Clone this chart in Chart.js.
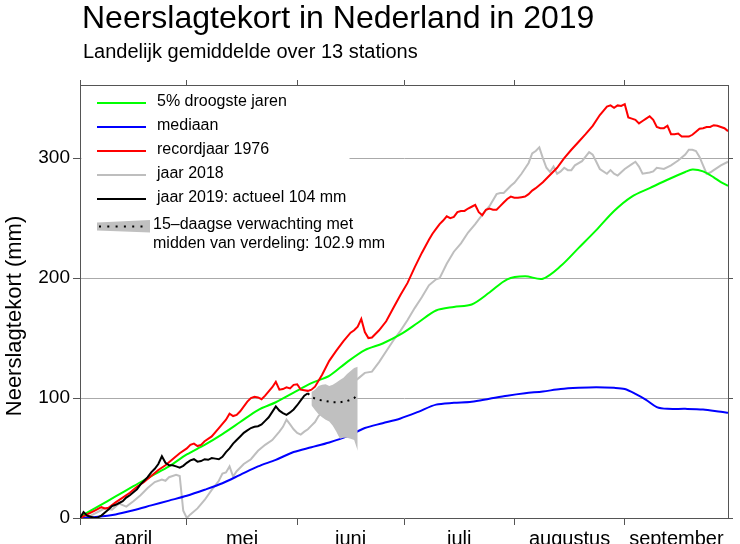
<!DOCTYPE html>
<html><head><meta charset="utf-8">
<script src="https://cdn.jsdelivr.net/npm/chart.js@4/dist/chart.umd.min.js"></script>
<style>html,body{margin:0;padding:0;background:#fff}#wrap{width:740px;height:544px;position:relative}canvas{display:block}</style>
</head><body><div id="wrap"><canvas id="c" width="740" height="544"></canvas></div>
<script>
// ---- texts ----
const TITLE = 'Neerslagtekort in Nederland in 2019';
const SUBTITLE = 'Landelijk gemiddelde over 13 stations';
const YTITLE = 'Neerslagtekort (mm)';
const legendLabels = ['5% droogste jaren', 'mediaan', 'recordjaar 1976', 'jaar 2018', 'jaar 2019: actueel 104 mm'];
const legendBandLabels = ['15\u2013daagse verwachting met', 'midden van verdeling: 102.9 mm'];

// ---- axes (x = days since 1 April) ----
const months = ['april', 'mei', 'juni', 'juli', 'augustus', 'september'];
const monthStartDays = [0, 30, 61, 91, 122, 153];
const monthMidDays = [15, 45.5, 76, 106.5, 137.5, 167.5];
const yTickValues = [0, 100, 200, 300];

// ---- 5% droogste jaren ----
const greenDays = [0,5,10,15,20,25,30,35,40,45,50,55,60,65,70,75,80,85,90,95,100,105,110,115,120,125,130,135,140,145,150,155,160,165,170,172,175,178,180,182];
const greenVals = [1,9.5,18,26.5,35,43,53,61,70,80,90,96.5,104.5,112.5,118.5,130,140,145.5,153,163,173,176,178,188,199,201.5,199.5,210,225,240,256,268,275,282,288.5,290.5,289,284,280,277];

// ---- mediaan ----
const blueDays = [0,5,10,15,20,25,30,35,40,45,50,55,60,65,70,75,80,85,90,95,100,105,110,115,120,125,130,135,140,145,150,153,156,159,162,165,170,175,180,182];
const blueVals = [0,1,3,6.5,10.5,14.5,18.5,23.5,29,36,43,48.5,55,59,63,68,75,79,83,88.5,94.5,96,97,99.5,102,104,105.5,107.5,108.5,109,108.5,107.5,103.5,98.5,92.5,91,91,90.5,88.5,87.8];

// ---- recordjaar 1976 ----
const redDays = [0,2,4,6,7,8,10,12,14,16,18,20,22,24,26,28,30,31,32,33,34,35,37,39,41,42,43,44,45,47,48,49,50,51,52,54,55,56,57,58,59,60,61,62,64,65,66,68,70,72,74,76,77,78,79,80,81,82,84,86,88,90,92,94,96,98,99,100,101,102,103,104,105,106,107,108,109,110,111,112,113,114,115,116,117,118,119,120,121,122,123,124,125,126,127,128,129,130,132,134,136,138,140,142,144,146,147,148,149,150,151,152,153,154,155,156,157,158,159,160,161,162,163,164,165,166,167,168,169,170,171,172,173,174,175,176,177,178,179,180,181,182];
const redVals = [0,3,6,9,8,8.5,13,17,21,26,30,35,40,44,49,54,58,61,62,60,61,64,68,75,82,87,85,86,89,97,100,101,100.5,99,102,109,113.5,107,107.5,109,108,111,111.5,107,106,107,109.5,119.5,131,139.5,147.5,154.5,156.5,159.5,166,155,150,150.5,156.5,164,175,186,196,209,221,232,237,241,245,248,251.5,250,251,255,256,256,258,259.5,261,255,252.5,257,258,257,257,260,263,266,268,267,267,267.5,268,270,273,275,277.5,280,286,292,300,307,313.5,320,327,336,339.5,343,344,342,344,343.5,345,334,333,332,329,331,333,335,332,326,325,325,327,320,320,320.5,318,318,318,319.5,322,324.5,325,326,326,327.5,327,326,325,322.5];

// ---- jaar 2018 ----
const grayDays = [0,3,5,7,9,11,13,15,17,19,21,23,24,25,27,28,29,30,31,33,35,37,39,40,41,42,43,44,46,48,50,52,54,56,57,58,59,60,61,62,63,64,65,66,67,78,80,82,84,86,88,90,92,94,96,98,100,101,103,105,107,109,111,113,115,117,118,119,121,122,124,126,127,128,129,130,131,132,133,134,135,136,137,138,139,141,143,144,145,146,148,149,150,151,153,155,156,157,158,160,161,162,164,166,168,170,171,172,173,174,175,176,177,178,180,182];
const grayVals = [0,2,5,8,7,12,9.5,14,19,25,30,32,31,34,36,35,6,0,3,8,15,23.5,31,37,38,43,34.5,39,45,49,56,61,65,72,76,82,78,74,71,69.5,72,74,77,80,85,116,121,122,130,139,148,156,165,175,184,194,199,200,212,222,229,238,245,253,260,270,271,271,277,279.5,287,296,304,306,309,300,292,288.5,293,287,289,292,290,290,294,297.5,305,303,297,291,287,290,287,285.5,291,295,297,293,287,288,289,292,291,294,298,303,307,307,306,301,294,287,288,290,294,297];

// ---- jaar 2019 ----
const blackDays = [0,1,2,3,4,5,6,7,8,9,10,11,12,13,14,15,16,17,18,19,20,21,22,23,24,25,26,27,28,29,30,31,32,33,34,35,36,37,38,39,40,41,42,43,44,45,46,47,48,49,50,51,52,53,54,55,56,57,58,59,60,61,62,63,64];
const blackVals = [0,5,2,1,0,0.5,2,4.5,7,10,11,12.5,14,17,19,21.5,24,28,31,34,38,41,45,51.5,46,44,44,43,42,43.5,46,48,49,47,47.5,49,48.5,50,49.5,49,51,55,58,62,65,68,71,73,75,76,76.5,78,81,84,88.5,93,89.5,87.5,86,88,90.5,94,98,102,104];

// ---- 15-daagse verwachting ----
const fcDays = [64,65,66,67,68,69,70,71,72,73,74,75,76,77,78];
const fcMid = [104,101,99.5,98.5,98,97.5,97,96.5,96.5,96.5,97,97.5,98.5,100,102.9];
const bandDays = [65,66,67,68,69,70,71,72,73,74,75,76,77,78];
const bandLow = [94,90,86.5,84,82,80.5,77,72,66,67,67,66,65,56];
const bandHigh = [105,107,110,111,111.5,110,111,113,115,117,120,122.5,125,126];

const pts = (d, v) => d.map((x, i) => ({x: x, y: v[i]}));
const FONT = '"Liberation Sans", Arial, Helvetica, sans-serif';
const AXIS = '#555555';
const GRID = '#aaaaaa';
const clear = 'rgba(0,0,0,0)';
const boundaryTicks = () => monthStartDays.map(v => ({value: v}));

const textPlugin = {
  id: 'texts',
  afterDraw(chart) {
    const ctx = chart.ctx;
    ctx.save();
    ctx.fillStyle = '#000';
    ctx.textAlign = 'left';
    ctx.textBaseline = 'alphabetic';
    ctx.font = '32px ' + FONT;
    ctx.fillText(TITLE, 82, 28);
    ctx.font = '20px ' + FONT;
    ctx.fillText(SUBTITLE, 83, 58);
    ctx.save();
    ctx.translate(15, 316);
    ctx.rotate(-Math.PI / 2);
    ctx.textAlign = 'center';
    ctx.textBaseline = 'middle';
    ctx.font = '22px ' + FONT;
    ctx.fillText(YTITLE, 0, 0);
    ctx.restore();

    // legend
    ctx.fillStyle = '#fff';
    ctx.fillRect(81.5, 86, 268, 170);
    const cols = ['#00ff00', '#0000ff', '#ff0000', '#bebebe', '#000000'];
    const ys = [103, 127, 151, 175, 199];
    ctx.lineWidth = 2;
    ctx.font = '16px ' + FONT;
    ctx.textBaseline = 'middle';
    for (let i = 0; i < cols.length; i++) {
      ctx.strokeStyle = cols[i];
      ctx.beginPath(); ctx.moveTo(97, ys[i]); ctx.lineTo(146, ys[i]); ctx.stroke();
      ctx.fillStyle = '#000';
      ctx.fillText(legendLabels[i], 157, ys[i] - 1.5);
    }
    ctx.fillStyle = '#c0c0c0';
    ctx.beginPath();
    ctx.moveTo(97, 222.5); ctx.lineTo(150, 220); ctx.lineTo(150, 232.5); ctx.lineTo(97, 230.5);
    ctx.closePath(); ctx.fill();
    ctx.fillStyle = '#000';
    for (let x = 99; x < 148; x += 8.3) ctx.fillRect(x, 225.5, 2, 2);
    ctx.fillText(legendBandLabels[0], 153, 224.5);
    ctx.fillText(legendBandLabels[1], 153, 244);
    ctx.restore();
  }
};

const line = (label, data, color, order, extra) => Object.assign({
  label, data, borderColor: color, backgroundColor: color, borderWidth: 2,
  pointRadius: 0, tension: 0, fill: false, order
}, extra || {});

new Chart(document.getElementById('c'), {
  type: 'line',
  data: {
    datasets: [
      line('jaar 2019', pts(blackDays, blackVals), '#000000', 0),
      line('recordjaar 1976', pts(redDays, redVals), '#ff0000', 1),
      line('5% droogste jaren', pts(greenDays, greenVals), '#00ff00', 2, {tension: 0.3}),
      line('verwachting midden', pts(fcDays, fcMid), '#000000', 3, {borderDash: [2, 5], borderCapStyle: 'butt'}),
      line('verwachting laag', pts(bandDays, bandLow), 'rgba(0,0,0,0)', 4, {borderWidth: 0}),
      line('verwachting hoog', pts(bandDays, bandHigh), 'rgba(0,0,0,0)', 4, {borderWidth: 0, fill: {target: 4}, backgroundColor: '#c0c0c0'}),
      line('mediaan', pts(blueDays, blueVals), '#0000ff', 5, {tension: 0.3}),
      line('jaar 2018', pts(grayDays, grayVals), '#bebebe', 6)
    ]
  },
  options: {
    responsive: false,
    animation: false,
    devicePixelRatio: 1,
    layout: {padding: 0},
    plugins: {legend: {display: false}, title: {display: false}, tooltip: {enabled: false}},
    scales: {
      x: {
        type: 'linear', position: 'bottom', min: 0, max: 182,
        afterBuildTicks: s => { s.ticks = monthStartDays.concat(monthMidDays).sort((a, b) => a - b).map(v => ({value: v})); },
        afterFit: s => { s.height = 26; },
        ticks: {
          autoSkip: false, maxRotation: 0, padding: 2, color: '#000',
          font: {family: FONT, size: 20},
          callback: v => { const i = monthMidDays.indexOf(v); return i >= 0 ? months[i] : ''; }
        },
        grid: {drawOnChartArea: false, tickLength: 7, color: clear,
          tickColor: c => (c.tick && monthStartDays.indexOf(c.tick.value) >= 0) ? AXIS : clear},
        border: {color: AXIS, width: 1}
      },
      x2: {
        type: 'linear', position: 'top', min: 0, max: 182,
        afterBuildTicks: s => { s.ticks = boundaryTicks(); },
        afterFit: s => { s.height = 85; },
        ticks: {display: false},
        grid: {drawOnChartArea: false, tickLength: 5, tickColor: AXIS},
        border: {color: AXIS, width: 1}
      },
      y: {
        type: 'linear', position: 'left', min: 0, max: 361,
        afterBuildTicks: s => { s.ticks = yTickValues.map(v => ({value: v})); },
        afterFit: s => { s.width = 80; },
        ticks: {padding: 3, color: '#000', font: {family: FONT, size: 19}},
        grid: {tickLength: 7, tickColor: AXIS, color: c => (c.tick && c.tick.value === 0) ? clear : GRID, lineWidth: 1},
        border: {color: AXIS, width: 1}
      },
      y2: {
        type: 'linear', position: 'right', min: 0, max: 361,
        afterBuildTicks: s => { s.ticks = yTickValues.map(v => ({value: v})); },
        afterFit: s => { s.width = 12; },
        ticks: {display: false},
        grid: {drawOnChartArea: false, tickLength: 5, tickColor: AXIS},
        border: {color: AXIS, width: 1}
      }
    }
  },
  plugins: [textPlugin]
});
</script>
</body></html>
